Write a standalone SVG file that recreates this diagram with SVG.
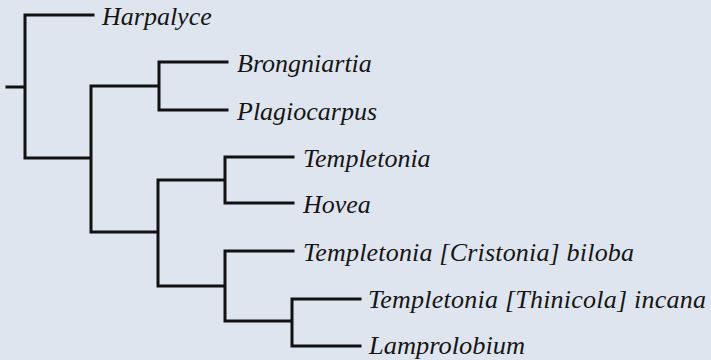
<svg xmlns="http://www.w3.org/2000/svg" width="711" height="360" viewBox="0 0 711 360">
<style>
.e{fill:none;stroke:#111;stroke-width:3;stroke-linecap:square;stroke-linejoin:miter}
.t{font-family:"Liberation Serif",serif;font-style:italic;font-size:26px;fill:#151515}
</style>
<rect width="711" height="360" fill="#dfe5ef"/>
<g id="connectors">
<path class="e" d="M7,87H25M93,15H25V158H91M158,86H91V232H158M227,62H159V110H227M158,180V286M225,180H158M225,286H158M293,157H225V203H293M293,251H225V321H292M360,299H292V346H360"/>
</g>
<g id="n-harpalyce"><text class="t" x="102" y="25">Harpalyce</text></g>
<g id="n-brongniartia"><text class="t" x="237" y="72">Brongniartia</text></g>
<g id="n-plagiocarpus"><text class="t" x="237" y="120">Plagiocarpus</text></g>
<g id="n-templetonia"><text class="t" x="303" y="167">Templetonia</text></g>
<g id="n-hovea"><text class="t" x="303" y="213">Hovea</text></g>
<g id="n-cristonia"><text class="t" x="303" y="261" textLength="331" lengthAdjust="spacing">Templetonia [Cristonia] biloba</text></g>
<g id="n-thinicola"><text class="t" x="368" y="308" textLength="338" lengthAdjust="spacing">Templetonia [Thinicola] incana</text></g>
<g id="n-lamprolobium"><text class="t" x="369" y="354" textLength="156" lengthAdjust="spacingAndGlyphs">Lamprolobium</text></g>
</svg>
